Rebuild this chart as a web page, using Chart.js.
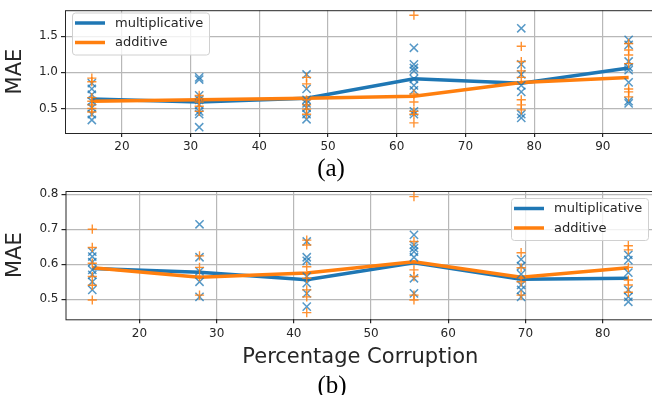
<!DOCTYPE html>
<html>
<head>
<meta charset="utf-8">
<script src="https://cdn.jsdelivr.net/npm/chart.js@4/dist/chart.umd.min.js"></script>
<style>
  body { margin: 0; width: 652px; height: 395px; overflow: hidden; background: #fff; position: relative; }
  canvas { position: absolute; left: 0; }
  #c1 { top: 0; }
  #c2 { top: 180px; }
  .cap { position: absolute; width: 100px; text-align: center; font: 25px "Liberation Serif", serif; line-height: 25px; color: #000; }
</style>
</head>
<body>
<canvas id="c1" width="720" height="155"></canvas>
<canvas id="c2" width="720" height="215"></canvas>
<div class="cap" style="left:281px; top:155px;">(a)</div>
<div class="cap" style="left:282px; top:372px;">(b)</div>

<script>
// x positions (percentage corruption)
const xTop = [15.625, 31.25, 46.875, 62.5, 78.125, 93.75];
const xBottom = [13.89, 27.78, 41.67, 55.56, 69.44, 83.33];

// mean lines
const multTop = [0.63, 0.59, 0.64, 0.91, 0.85, 1.06];
const addTop = [0.60, 0.62, 0.64, 0.67, 0.86, 0.93];
const multBottom = [0.588, 0.577, 0.556, 0.604, 0.557, 0.560];
const addBottom = [0.590, 0.563, 0.575, 0.607, 0.563, 0.590];

// individual runs per x position
const multPtsTop = [
  [0.85, 0.77, 0.69, 0.60, 0.51, 0.42, 0.34],
  [0.93, 0.90, 0.68, 0.62, 0.55, 0.46, 0.42, 0.24],
  [0.97, 0.77, 0.62, 0.57, 0.51, 0.42, 0.35],
  [1.34, 1.11, 1.06, 1.02, 0.91, 0.82, 0.75, 0.46, 0.42],
  [1.61, 1.11, 0.97, 0.82, 0.73, 0.42, 0.37],
  [1.45, 1.38, 1.15, 1.07, 1.03, 0.86, 0.60, 0.57]
];
const addPtsTop = [
  [0.92, 0.87, 0.65, 0.60, 0.55, 0.50, 0.45],
  [0.68, 0.64, 0.59, 0.53, 0.46],
  [0.93, 0.84, 0.62, 0.55, 0.49, 0.42],
  [1.79, 0.70, 0.59, 0.46, 0.42, 0.30],
  [1.36, 1.15, 1.02, 0.93, 0.62, 0.55, 0.48],
  [1.40, 1.31, 1.24, 1.12, 0.77, 0.73, 0.66]
];
const multPtsBottom = [
  [0.636, 0.622, 0.606, 0.584, 0.570, 0.550, 0.527],
  [0.714, 0.620, 0.580, 0.550, 0.507],
  [0.665, 0.620, 0.610, 0.565, 0.546, 0.517, 0.479],
  [0.684, 0.655, 0.646, 0.636, 0.620, 0.560, 0.517],
  [0.614, 0.595, 0.572, 0.541, 0.527, 0.507],
  [0.627, 0.612, 0.576, 0.527, 0.507, 0.493]
];
const addPtsBottom = [
  [0.700, 0.648, 0.603, 0.565, 0.540, 0.498],
  [0.624, 0.591, 0.565, 0.512],
  [0.669, 0.655, 0.593, 0.560, 0.527, 0.507, 0.462],
  [0.793, 0.665, 0.584, 0.565, 0.512, 0.498],
  [0.633, 0.590, 0.550, 0.512],
  [0.653, 0.641, 0.591, 0.555, 0.541, 0.520]
];

// tick labels
const xTicksTop = [20, 30, 40, 50, 60, 70, 80, 90];
const yTicksTop = [0.5, 1.0, 1.5];
const xTicksBottom = [20, 30, 40, 50, 60, 70, 80];
const yTicksBottom = [0.5, 0.6, 0.7, 0.8];

const seriesNames = ["multiplicative", "additive"];

const BLUE = "#1f77b4";
const ORANGE = "#ff7f0e";
const FONT = "'DejaVu Sans', sans-serif";

Chart.defaults.font.family = FONT;
Chart.defaults.color = "#262626";

function toXY(xs, ys) {
  return xs.map((x, i) => ({ x: x, y: ys[i] }));
}
function cloud(xs, groups) {
  const out = [];
  groups.forEach((g, i) => g.forEach(v => out.push({ x: xs[i], y: v })));
  return out;
}

// frame around the plot area + legend drawn inside the axes
const framePlugin = {
  id: "frame",
  afterDatasetsDraw(chart) {
    const a = chart.chartArea, ctx = chart.ctx;
    ctx.save();
    ctx.strokeStyle = "#262626";
    ctx.lineWidth = 1;
    ctx.strokeRect(a.left + 0.5, a.top + 0.5, a.right - a.left, a.bottom - a.top);
    ctx.restore();
  },
  afterDraw(chart, args, opts) {
    const ctx = chart.ctx;
    const x = opts.x, y = opts.y, w = 137, h = 42;
    ctx.save();
    ctx.fillStyle = "rgba(255,255,255,0.8)";
    ctx.strokeStyle = "#d0d0d0";
    ctx.lineWidth = 1;
    ctx.beginPath();
    ctx.roundRect(x + 0.5, y + 0.5, w, h, 3);
    ctx.fill();
    ctx.stroke();
    const colors = [BLUE, ORANGE];
    seriesNames.forEach((name, i) => {
      const cy = y + 10.5 + i * 19.5;
      ctx.strokeStyle = colors[i];
      ctx.lineWidth = 3.5;
      ctx.beginPath();
      ctx.moveTo(x + 3, cy);
      ctx.lineTo(x + 33, cy);
      ctx.stroke();
      ctx.fillStyle = "#262626";
      ctx.font = "13px " + FONT;
      ctx.textBaseline = "middle";
      ctx.fillText(name, x + 43, cy + 0.5);
    });
    ctx.restore();
  }
};

function makeChart(id, o) {
  new Chart(document.getElementById(id), {
    type: "scatter",
    data: {
      datasets: [
        { type: "line", label: seriesNames[0], data: toXY(o.xs, o.mult), borderColor: BLUE, borderWidth: 3.5, pointRadius: 0, order: 3 },
        { type: "line", label: seriesNames[1], data: toXY(o.xs, o.add), borderColor: ORANGE, borderWidth: 3.5, pointRadius: 0, order: 2 },
        { data: cloud(o.xs, o.multPts), pointStyle: "crossRot", pointRadius: 5.8, borderColor: "rgba(31,119,180,0.75)", borderWidth: 1.5, order: 1 },
        { data: cloud(o.xs, o.addPts), pointStyle: "cross", pointRadius: 4.6, borderColor: "rgba(255,127,14,0.85)", borderWidth: 1.4, order: 0 }
      ]
    },
    options: {
      responsive: false,
      devicePixelRatio: 1,
      animation: false,
      layout: { padding: o.padding },
      plugins: {
        legend: { display: false },
        tooltip: { enabled: false },
        frame: { x: o.legendX, y: o.legendY }
      },
      scales: {
        x: {
          type: "linear",
          min: o.xMin, max: o.xMax,
          afterBuildTicks: s => { s.ticks = o.xTicks.map(v => ({ value: v })); },
          afterFit: s => { s.height = o.xHeight; },
          ticks: { font: { size: 12 }, padding: 3, callback: v => String(v) },
          grid: { color: "#b8b8b8", lineWidth: 1.2, tickLength: 4, tickColor: "#262626" },
          border: { display: false },
          title: o.xTitle ? { display: true, text: o.xTitle, font: { size: 21 }, padding: { top: 0, bottom: 0 } } : { display: false }
        },
        y: {
          min: o.yMin, max: o.yMax,
          afterBuildTicks: s => { s.ticks = o.yTicks.map(v => ({ value: v })); },
          afterFit: s => { s.width = o.yWidth; },
          ticks: { font: { size: 12 }, padding: 3, callback: v => v.toFixed(1) },
          grid: { color: "#b8b8b8", lineWidth: 1.2, tickLength: 4, tickColor: "#262626" },
          border: { display: false },
          title: { display: true, text: "MAE", font: { size: 21 }, padding: { top: 3.4, bottom: 0 } }
        }
      }
    },
    plugins: [framePlugin]
  });
}

makeChart("c1", {
  xs: xTop, mult: multTop, add: addTop, multPts: multPtsTop, addPts: addPtsTop,
  xTicks: xTicksTop, yTicks: yTicksTop,
  xMin: 11.72, xMax: 97.66, yMin: 0.16, yMax: 1.86,
  padding: { top: 5, left: 0, right: 64.5, bottom: 0 },
  xHeight: 22, yWidth: 65,
  legendX: 72, legendY: 12.5
});

makeChart("c2", {
  xs: xBottom, mult: multBottom, add: addBottom, multPts: multPtsBottom, addPts: addPtsBottom,
  xTicks: xTicksBottom, yTicks: yTicksBottom,
  xMin: 10.42, xMax: 86.81, yMin: 0.443, yMax: 0.809,
  padding: { top: 11, left: 0, right: 64.8, bottom: 24.4 },
  xHeight: 51.3, yWidth: 65.5,
  xTitle: "Percentage Corruption",
  legendX: 511, legendY: 18
});
</script>
</body>
</html>
